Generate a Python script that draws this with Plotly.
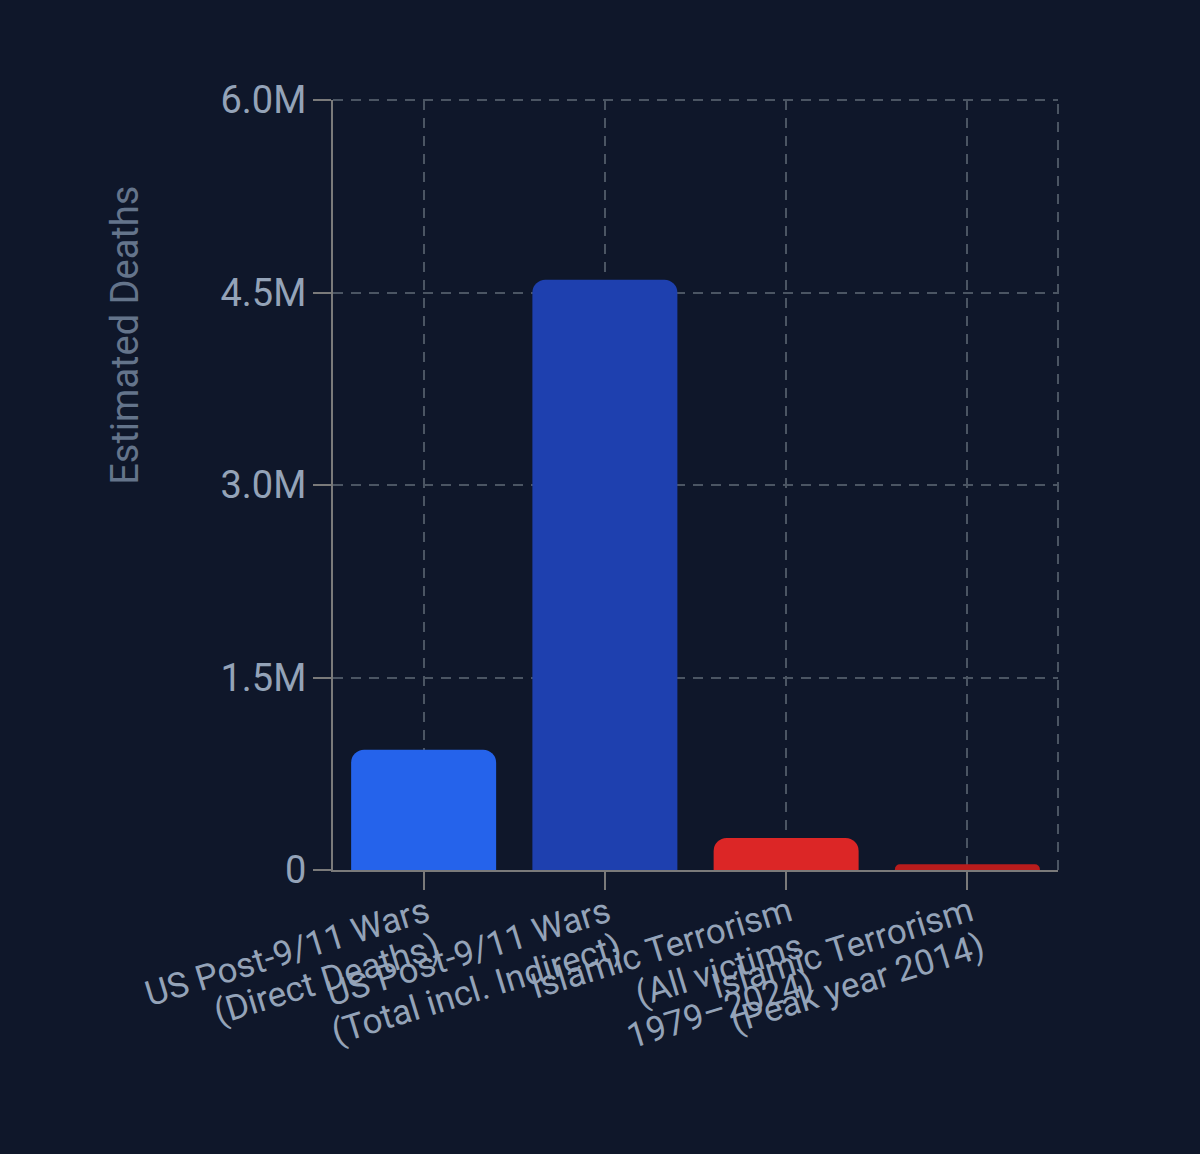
import math
import plotly.graph_objects as go

categories = [
    "US Post-9/11 Wars<br>(Direct Deaths)",
    "US Post-9/11 Wars<br>(Total incl. Indirect)",
    "Islamic Terrorism<br>(All victims<br>1979–2024)",
    "Islamic Terrorism<br>(Peak year 2014)",
]
deaths = [937000, 4600000, 249941, 44000]
bar_colors = ["#2563eb", "#1e40af", "#dc2626", "#b91c1c"]

y_tickvals = [0, 1500000, 3000000, 4500000, 6000000]
y_ticktext = ["0", "1.5M", "3.0M", "4.5M", "6.0M"]

BG = "#0f172a"
AXIS = "#7a7a7a"
GRID = "#4b5563"
TICKFONT = "#94a3b8"
DASH = "10px,8px"

LABEL_ANGLE = 17
LABEL_SIZE = 35
LINE_GAP = 38

fig = go.Figure(
    go.Bar(
        x=list(range(len(categories))),
        y=deaths,
        marker=dict(color=bar_colors, cornerradius=13, line=dict(width=0)),
        hoverinfo="skip",
    )
)

fig.update_layout(
    width=1200,
    height=1154,
    paper_bgcolor=BG,
    plot_bgcolor=BG,
    margin=dict(l=333, r=142, t=100, b=284),
    bargap=0.2,
    showlegend=False,
    font=dict(family="Roboto", color=TICKFONT),
)

fig.update_xaxes(
    range=[-0.5, 3.5],
    tickmode="array",
    tickvals=list(range(len(categories))),
    ticktext=categories,
    showticklabels=False,
    showline=True,
    linecolor=AXIS,
    linewidth=2,
    ticks="outside",
    ticklen=18,
    tickwidth=2,
    tickcolor=AXIS,
    showgrid=True,
    gridcolor=GRID,
    griddash=DASH,
    gridwidth=2,
    zeroline=False,
)

fig.update_yaxes(
    range=[0, 6000000],
    tickmode="array",
    tickvals=y_tickvals,
    ticktext=y_ticktext,
    tickfont=dict(size=38, color=TICKFONT),
    showline=True,
    linecolor=AXIS,
    linewidth=2,
    ticks="outside",
    ticklen=18,
    tickwidth=2,
    tickcolor=AXIS,
    ticklabelstandoff=-1,
    showgrid=True,
    gridcolor=GRID,
    griddash=DASH,
    gridwidth=2,
    zeroline=False,
)

# rotated category labels (right-aligned lines, tighter line spacing)
th = math.radians(LABEL_ANGLE)
for i, cat in enumerate(categories):
    for j, line in enumerate(cat.split("<br>")):
        fig.add_annotation(
            text=line,
            xref="x", yref="paper",
            x=i, y=0,
            xanchor="right", yanchor="top",
            xshift=13 + j * LINE_GAP * math.sin(th),
            yshift=-(17 + j * LINE_GAP * math.cos(th)),
            textangle=-LABEL_ANGLE,
            showarrow=False,
            font=dict(size=LABEL_SIZE, color=TICKFONT),
        )

# right-edge and top dashed grid lines
fig.add_shape(
    type="line", xref="paper", yref="paper", x0=1, x1=1, y0=0, y1=1,
    line=dict(color=GRID, width=2, dash=DASH), layer="below",
)
fig.add_shape(
    type="line", xref="paper", yref="paper", x0=0, x1=1, y0=1, y1=1,
    line=dict(color=GRID, width=2, dash=DASH), layer="below",
)

fig.add_annotation(
    text="Estimated Deaths",
    xref="paper", yref="paper",
    x=-0.287, y=0.695,
    xanchor="center", yanchor="middle",
    textangle=-90,
    showarrow=False,
    font=dict(size=38, color="#64748b"),
)

fig.write_html(
    "out.html",
    config={"displayModeBar": False},
    post_script="document.body.style.margin='0';document.body.style.background='#0f172a';document.body.style.overflow='hidden';",
)
